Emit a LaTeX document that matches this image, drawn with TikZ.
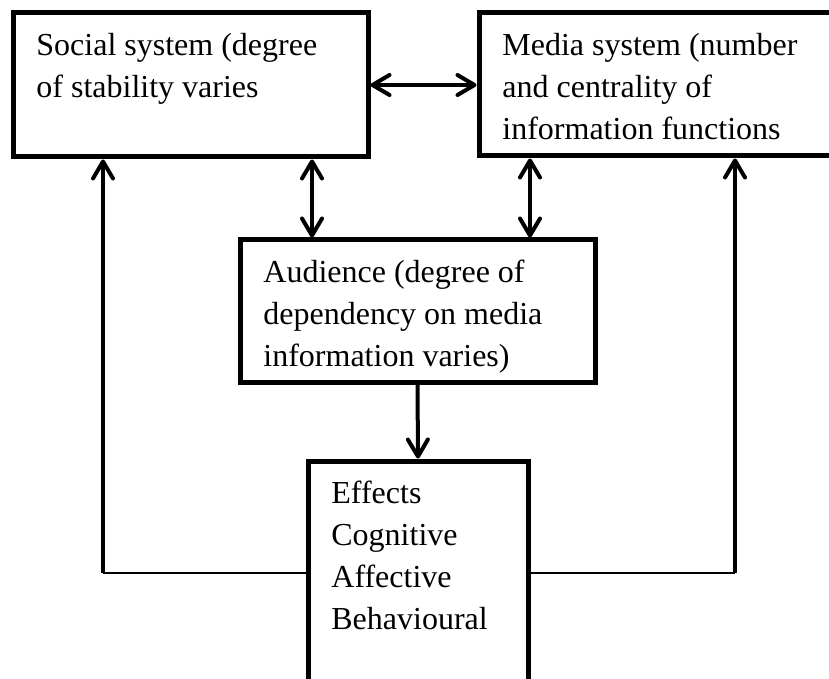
\documentclass[tikz,border=0pt]{standalone}
\usepackage{fontspec}
\setmainfont{Liberation Serif}
\usetikzlibrary{arrows.meta}

\begin{document}
\begin{tikzpicture}[x=.5pt,y=-.5pt,>={Straight Barb[length=8.5pt,width=10pt,round]},
  box/.style={draw,line width=2.5pt,anchor=north west,inner sep=0pt},
  txt/.style={anchor=north west,align=left,inner sep=0pt,xshift=12.75pt,yshift=-11.25pt,font=\fontsize{16}{21}\selectfont},
  link/.style={line width=2pt}]
\useasboundingbox (0,0) rectangle (829,679);

\node [box,minimum width=177.5pt,minimum height=72pt,label={[txt]north west:Social system (degree\\of stability varies}] (social) at (10.5,10.5) {};
\node [box,minimum width=190.5pt,minimum height=71.5pt,label={[txt]north west:Media system (number\\and centrality of\\information functions}] (media) at (476.5,10.5) {};
\node [box,minimum width=177.5pt,minimum height=71pt,label={[txt]north west:Audience (degree of\\dependency on media\\information varies)}] (aud) at (237.5,237.5) {};
\node [box,minimum width=110pt,minimum height=120pt,label={[txt]north west:Effects\\Cognitive\\Affective\\Behavioural}] (effects) at (305.5,458.5) {};

\draw [link,<->] (social.east) -- (social.east -| media.west);
\draw [link,<->] (social.south -| 312,0) -- (aud.north -| 312,0);
\draw [link,<->] (media.south -| 530,0) -- (aud.north -| 530,0);
\draw [link,->] (aud.south) -- (effects.north);

% feedback from effects
\coordinate (backl) at (103,573);
\coordinate (backr) at (735,573);
\draw [line width=1.25pt] (effects.west |- backl) -- (backl);
\draw [link,->] (backl) -- (backl |- social.south);
\draw [line width=1.25pt] (effects.east |- backr) -- (backr);
\draw [link,->] (backr) -- (backr |- media.south);
\end{tikzpicture}
\end{document}
